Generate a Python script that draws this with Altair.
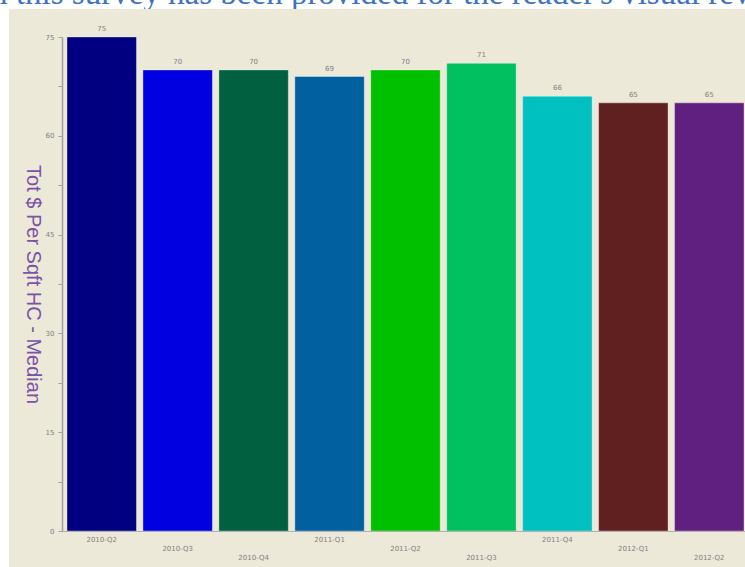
import altair as alt
import pandas as pd

quarters = ['2010-Q2', '2010-Q3', '2010-Q4', '2011-Q1', '2011-Q2',
            '2011-Q3', '2011-Q4', '2012-Q1', '2012-Q2']
values = [75, 70, 70, 69, 70, 71, 66, 65, 65]
colors = ['#000080', '#0000E0', '#006040', '#0060A0', '#00C000',
          '#00C060', '#00C0C0', '#602020', '#602080']
y_ticks = [0, 7.5, 15, 22.5, 30, 37.5, 45, 52.5, 60, 67.5, 75]
header_text = "Data from this survey has been provided for the reader's visual review."

df = pd.DataFrame({'quarter': quarters, 'value': values,
                   'row': [i % 3 for i in range(len(quarters))]})

W, H = 683, 494

x_scale = alt.Scale(paddingInner=0.0855, paddingOuter=0.0395, align=0.833)
x_enc = alt.X(
    'quarter:N', sort=quarters, title=None, scale=x_scale,
    axis=alt.Axis(labels=False, ticks=False, domainColor='#b0b0b0', zindex=1)
)
y_enc = alt.Y(
    'value:Q',
    scale=alt.Scale(domain=[0, 75], nice=False, zero=True),
    axis=alt.Axis(values=y_ticks, labelExpr="datum.value % 15 == 0 ? datum.label : ''",
                  grid=False, domainColor='#a0a0a0', domainWidth=1.5,
                  tickColor='#a0a0a0', tickSize=4, labelColor='#808080',
                  labelFontSize=7, labelFont='DejaVu Sans', labelPadding=4,
                  title='Tot $ Per Sqft HC - Median', titleAngle=90,
                  titleX=-30, titleY=H / 2, titleAlign='center',
                  titleBaseline='middle', titleFontSize=20,
                  titleFont='Liberation Sans', titleFontWeight='normal',
                  titleColor='#7b52a8', zindex=1)
)

header = alt.Chart(alt.Data(values=[{'t': header_text}])).mark_text(
    font='Liberation Serif', fontSize=33, color='#3d72c4', align='left',
    baseline='alphabetic'
).encode(x=alt.value(-189), y=alt.value(-33), text='t:N')

bg = alt.Chart(alt.Data(values=[{'k': 1}])).mark_rect(color='#ECE9D8').encode(
    x=alt.value(-53), x2=alt.value(W + 10), y=alt.value(-28), y2=alt.value(H + 40)
)

bars = alt.Chart(df).mark_bar(stroke='white', strokeOpacity=0.35, strokeWidth=1).encode(
    x=x_enc, y=y_enc,
    color=alt.Color('quarter:N', sort=quarters,
                    scale=alt.Scale(domain=quarters, range=colors), legend=None)
)

labels = alt.Chart(df).mark_text(fontSize=7, color='#808080', font='DejaVu Sans',
                                 baseline='middle', dy=-8).encode(
    x=alt.X('quarter:N', sort=quarters),
    y='value:Q',
    text='value:Q'
)

row_layers = []
for r in range(3):
    row_layers.append(
        alt.Chart(df).transform_filter(alt.datum.row == r)
        .mark_text(fontSize=7, color='#808080', font='DejaVu Sans', baseline='middle')
        .encode(x=alt.X('quarter:N', sort=quarters),
                y=alt.value(H + 9 + 9 * r),
                text='quarter:N')
    )

chart = alt.layer(header, bg, bars, labels, *row_layers).properties(
    width=W, height=H,
    background='white',
    padding={'left': 62, 'top': 37, 'right': 0, 'bottom': 36},
    autosize=alt.AutoSizeParams(type='none')
).configure_view(stroke=None)

chart.save("out.html", embed_options={"renderer": "svg", "actions": False})
